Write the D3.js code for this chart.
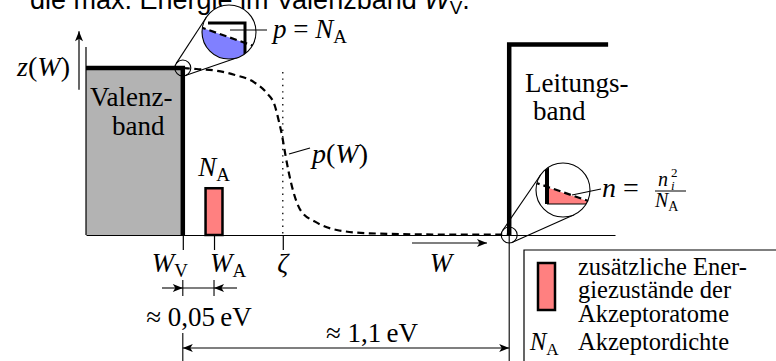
<!DOCTYPE html>
<html>
<head>
<meta charset="utf-8">
<script src="https://cdn.jsdelivr.net/npm/d3@7"></script>
<style>
  body { margin: 0; background: #fff; }
  svg { display: block; }
</style>
</head>
<body>
<script>
// band diagram of a p-doped semiconductor, drawn with d3

var width = 776,
    height = 361;

var serif = '"Liberation Serif", "Times New Roman", Times, serif';
var sans = '"Liberation Sans", Arial, sans-serif';

// energy levels (diagram units, not to scale): W_V, W_A, zeta, W_L
var levelW = [1.83, 2.42, 3.72, 8.0];
var tickValues = [1.83, 2.42, 3.72];
var tickNames = ['W', 'W', 'ζ'];
var tickSubs = ['V', 'A', ''];

// band heights z(W)
var valenceTop = 1.0;
var conductionTop = 1.14;
var conductionEnd = 9.87;
var acceptorHeight = 0.28;
var acceptorWidth = 0.32;

// p(W)
var curveW = [1.83, 2.09, 2.42, 2.80, 3.18, 3.42, 3.57, 3.64, 3.71, 3.77, 3.83, 3.92, 4.06, 4.33, 4.74, 5.37, 6.70, 8.0];
var curveP = [1.0, 0.994, 0.986, 0.960, 0.914, 0.849, 0.774, 0.689, 0.589, 0.479, 0.379, 0.259, 0.146, 0.080, 0.030, 0.010, 0.003, 0.003];

// legend lines
var legendLines = ['zusätzliche Ener-', 'giezustände der', 'Akzeptoratome', 'Akzeptordichte'];

var WV = levelW[0], WA = levelW[1], ZETA = levelW[2], WL = levelW[3];

var x = d3.scaleLinear().domain([0, 10]).range([86, 615]);
var y = d3.scaleLinear().domain([0, 1]).range([235, 68]);

var svg = d3.select('body').append('svg')
    .attr('width', width)
    .attr('height', height);

var defs = svg.append('defs');
defs.append('marker')
    .attr('id', 'arrow')
    .attr('markerUnits', 'userSpaceOnUse')
    .attr('viewBox', '-11 -5 12 10')
    .attr('refX', 0).attr('refY', 0)
    .attr('markerWidth', 12).attr('markerHeight', 10)
    .attr('orient', 'auto-start-reverse')
  .append('path')
    .attr('d', 'M-10,-4 L0,0 L-10,4 L-7.5,0 Z')
    .attr('fill', '#000');

// helper for text with italic parts and subscripts
var addText = function(parent, px, py, parts, size, anchor, family) {
  var t = parent.append('text')
      .attr('x', px).attr('y', py)
      .attr('font-family', family || serif)
      .attr('font-size', size)
      .attr('fill', '#000')
      .attr('text-anchor', anchor || 'start');
  var shift = 0;
  parts.forEach(function(p) {
    var s = t.append('tspan').text(p.t);
    var target = p.sub ? size * 0.2 : 0;
    if (target !== shift) s.attr('dy', target - shift);
    shift = target;
    if (p.i) s.attr('font-style', 'italic');
    if (p.sub) s.attr('font-size', size * 0.7);
  });
  return t;
};

// caption line cut at the top
addText(svg, 30, 9, [
  {t: 'die max. Energie im Valenzband '},
  {t: 'W', i: true},
  {t: 'V', sub: true},
  {t: '.'}
], 27, 'start', sans);

// valence band fill
svg.append('rect')
    .attr('x', x(0))
    .attr('y', y(valenceTop))
    .attr('width', x(WV) - x(0))
    .attr('height', y(0) - y(valenceTop))
    .attr('fill', '#b3b3b3');

// energy axis with ticks
var axis = d3.axisBottom(x)
    .tickValues(tickValues)
    .tickSize(15)
    .tickSizeOuter(0)
    .tickFormat('');
var ax = svg.append('g')
    .attr('transform', 'translate(0,' + y(0) + ')')
    .call(axis);
ax.selectAll('path, line').attr('stroke', '#000').attr('stroke-width', 1.2);

// z axis line and arrow
svg.append('line')
    .attr('x1', x(0)).attr('x2', x(0))
    .attr('y1', y(1.126)).attr('y2', y(0))
    .attr('stroke', '#000').attr('stroke-width', 1.2);
svg.append('line')
    .attr('x1', x(0) - 7).attr('x2', x(0) - 7)
    .attr('y1', y(0.87)).attr('y2', y(1.22))
    .attr('stroke', '#000').attr('stroke-width', 1.2)
    .attr('marker-end', 'url(#arrow)');
addText(svg, 70, 76, [{t: 'z', i: true}, {t: '('}, {t: 'W', i: true}, {t: ')'}], 28, 'end');

// zeta dotted line
svg.append('line')
    .attr('x1', x(ZETA)).attr('x2', x(ZETA))
    .attr('y1', y(0.976)).attr('y2', y(0))
    .attr('stroke', '#000').attr('stroke-width', 1.3)
    .attr('stroke-dasharray', '1.4,5');

// p(W) curve
var pts = curveW.map(function(w, i) { return [w, curveP[i]]; });
var line = d3.line()
    .x(function(d) { return x(d[0]); })
    .y(function(d) { return y(d[1]); })
    .curve(d3.curveMonotoneX);
svg.append('path')
    .attr('d', line(pts))
    .attr('fill', 'none')
    .attr('stroke', '#000')
    .attr('stroke-width', 2.2)
    .attr('stroke-dasharray', '7,4.5');

// band edges
svg.append('path')
    .attr('d', 'M' + x(0) + ',' + y(valenceTop) + 'H' + x(WV) + 'V' + y(0))
    .attr('fill', 'none').attr('stroke', '#000').attr('stroke-width', 4.5);
svg.append('path')
    .attr('d', 'M' + x(WL) + ',' + y(0) + 'V' + y(conductionTop) + 'H' + x(conductionEnd))
    .attr('fill', 'none').attr('stroke', '#000').attr('stroke-width', 4.5);

// acceptor states
svg.append('rect')
    .attr('x', x(WA - acceptorWidth / 2))
    .attr('y', y(acceptorHeight))
    .attr('width', x(WA + acceptorWidth / 2) - x(WA - acceptorWidth / 2))
    .attr('height', y(0) - y(acceptorHeight))
    .attr('fill', '#ff8080').attr('stroke', '#000').attr('stroke-width', 2.5);

// band labels
addText(svg, 90, 106, [{t: 'Valenz-'}], 27);
addText(svg, 112, 135, [{t: 'band'}], 27);
addText(svg, 525, 92, [{t: 'Leitungs-'}], 27);
addText(svg, 533, 120, [{t: 'band'}], 27);
addText(svg, 214, 176, [{t: 'N', i: true}, {t: 'A', sub: true}], 27, 'middle');

// p(W) label
svg.append('line')
    .attr('x1', 289).attr('y1', 154).attr('x2', 310).attr('y2', 148)
    .attr('stroke', '#000').attr('stroke-width', 1.2);
addText(svg, 312, 163, [{t: 'p', i: true}, {t: '('}, {t: 'W', i: true}, {t: ')'}], 28);

// tick labels
var tickAnchor = ['end', 'start', 'middle'];
var tickShift = [5, -4, 0];
tickValues.forEach(function(v, i) {
  var parts = [{t: tickNames[i], i: true}];
  if (tickSubs[i]) parts.push({t: tickSubs[i], sub: true});
  addText(svg, x(v) + tickShift[i], 272, parts, 27, tickAnchor[i]);
});

// W arrow
svg.append('line')
    .attr('x1', 412).attr('x2', 487).attr('y1', 243).attr('y2', 243)
    .attr('stroke', '#000').attr('stroke-width', 1.2)
    .attr('marker-end', 'url(#arrow)');
addText(svg, 441, 272, [{t: 'W', i: true}], 27, 'middle');

// magnifier: small circle, big circle, tangent lines
var magnifier = function(id, c1, r1, c2, r2, drawInside) {
  var dx = c2[0] - c1[0], dy = c2[1] - c1[1];
  var D = Math.sqrt(dx * dx + dy * dy);
  var ux = dx / D, uy = dy / D;
  var ct = (r1 - r2) / D, st = Math.sqrt(1 - ct * ct);
  [1, -1].forEach(function(s) {
    var nx = ux * ct - s * uy * st, ny = uy * ct + s * ux * st;
    svg.append('line')
        .attr('x1', c1[0] + r1 * nx).attr('y1', c1[1] + r1 * ny)
        .attr('x2', c2[0] + r2 * nx).attr('y2', c2[1] + r2 * ny)
        .attr('stroke', '#000').attr('stroke-width', 1.1);
  });
  svg.append('circle')
      .attr('cx', c1[0]).attr('cy', c1[1]).attr('r', r1)
      .attr('fill', 'none').attr('stroke', '#000').attr('stroke-width', 1.1);
  defs.append('clipPath').attr('id', id)
    .append('circle').attr('cx', c2[0]).attr('cy', c2[1]).attr('r', r2);
  svg.append('circle')
      .attr('cx', c2[0]).attr('cy', c2[1]).attr('r', r2)
      .attr('fill', '#fff');
  var g = svg.append('g')
      .attr('clip-path', 'url(#' + id + ')')
      .append('g')
      .attr('transform', 'translate(' + c2[0] + ',' + c2[1] + ')');
  drawInside(g);
  svg.append('circle')
      .attr('cx', c2[0]).attr('cy', c2[1]).attr('r', r2)
      .attr('fill', 'none').attr('stroke', '#000').attr('stroke-width', 1.1);
};

// holes near valence band edge
magnifier('mag1', [x(WV), y(valenceTop)], 8, [229, 32], 27, function(g) {
  g.append('path')
      .attr('d', 'M-30,-5.4 L16,10.9 L16,30 L-30,30 Z')
      .attr('fill', '#8080ff');
  g.append('path')
      .attr('d', 'M-21,-9 H16 V30')
      .attr('fill', 'none').attr('stroke', '#000').attr('stroke-width', 3)
      .attr('stroke-linejoin', 'miter');
  g.append('line')
      .attr('x1', -30).attr('y1', -5.4).attr('x2', 30).attr('y2', 15.8)
      .attr('stroke', '#000').attr('stroke-width', 2.2)
      .attr('stroke-dasharray', '7,4');
});
svg.append('line')
    .attr('x1', 230).attr('x2', 267).attr('y1', 30).attr('y2', 30)
    .attr('stroke', '#000').attr('stroke-width', 1.1);
addText(svg, 273, 38, [{t: 'p', i: true}, {t: ' = '}, {t: 'N', i: true}, {t: 'A', sub: true}], 27);

// electrons near conduction band edge
magnifier('mag2', [x(WL), y(0)], 8, [563, 190], 27, function(g) {
  g.append('path')
      .attr('d', 'M-16,-2.8 L30,13.1 L30,14 L-16,14 Z')
      .attr('fill', '#ff8080');
  g.append('line')
      .attr('x1', -16).attr('x2', 30).attr('y1', 14).attr('y2', 14)
      .attr('stroke', '#000').attr('stroke-width', 1.2);
  g.append('line')
      .attr('x1', -16).attr('x2', -16).attr('y1', -30).attr('y2', 14)
      .attr('stroke', '#000').attr('stroke-width', 4);
  g.append('line')
      .attr('x1', -30).attr('y1', -8.2).attr('x2', 30).attr('y2', 12.6)
      .attr('stroke', '#000').attr('stroke-width', 2.2)
      .attr('stroke-dasharray', '7,4');
});
svg.append('line')
    .attr('x1', 572).attr('y1', 195).attr('x2', 601).attr('y2', 189)
    .attr('stroke', '#000').attr('stroke-width', 1.1);
addText(svg, 602, 197, [{t: 'n', i: true}, {t: ' ='}], 28);
addText(svg, 658, 186, [{t: 'n', i: true}], 20);
addText(svg, 671, 177, [{t: '2'}], 13);
addText(svg, 671, 190, [{t: 'i', i: true}], 13);
svg.append('line')
    .attr('x1', 655).attr('x2', 686).attr('y1', 191).attr('y2', 191)
    .attr('stroke', '#000').attr('stroke-width', 1);
addText(svg, 655, 207, [{t: 'N', i: true}, {t: 'A', sub: true}], 20);

// 0.05 eV dimension
svg.append('line')
    .attr('x1', 162).attr('x2', x(WV)).attr('y1', 288).attr('y2', 288)
    .attr('stroke', '#000').attr('stroke-width', 1.1)
    .attr('marker-end', 'url(#arrow)');
svg.append('line')
    .attr('x1', 237).attr('x2', x(WA)).attr('y1', 288).attr('y2', 288)
    .attr('stroke', '#000').attr('stroke-width', 1.1)
    .attr('marker-end', 'url(#arrow)');
svg.append('line')
    .attr('x1', x(WV)).attr('x2', x(WA)).attr('y1', 288).attr('y2', 288)
    .attr('stroke', '#000').attr('stroke-width', 1.1);
[WV, WA].forEach(function(v) {
  svg.append('line')
      .attr('x1', x(v)).attr('x2', x(v)).attr('y1', 280).attr('y2', 296)
      .attr('stroke', '#000').attr('stroke-width', 1.1);
});
addText(svg, 199, 326, [{t: '≈ 0,05\u2009eV'}], 27, 'middle');

// 1.1 eV dimension
svg.append('line')
    .attr('x1', x(WV)).attr('x2', x(WV)).attr('y1', 333).attr('y2', height)
    .attr('stroke', '#000').attr('stroke-width', 1.1);
svg.append('line')
    .attr('x1', x(WL)).attr('x2', x(WL)).attr('y1', y(0)).attr('y2', height)
    .attr('stroke', '#000').attr('stroke-width', 1.1);
svg.append('line')
    .attr('x1', x(WV)).attr('x2', x(WL)).attr('y1', 348).attr('y2', 348)
    .attr('stroke', '#000').attr('stroke-width', 1.1)
    .attr('marker-start', 'url(#arrow)')
    .attr('marker-end', 'url(#arrow)');
addText(svg, 372, 342, [{t: '≈ 1,1\u2009eV'}], 27, 'middle');

// legend
svg.append('path')
    .attr('d', 'M524,' + height + 'V250H' + width)
    .attr('fill', 'none').attr('stroke', '#000').attr('stroke-width', 1.2);
svg.append('rect')
    .attr('x', 538).attr('y', 263).attr('width', 17).attr('height', 47)
    .attr('fill', '#ff8080').attr('stroke', '#000').attr('stroke-width', 2.5);
var legendY = [275, 298, 322, 350];
legendLines.forEach(function(s, i) {
  addText(svg, 578, legendY[i], [{t: s}], 24.5);
});
addText(svg, 530, 350, [{t: 'N', i: true}, {t: 'A', sub: true}], 24.5);
</script>
</body>
</html>
